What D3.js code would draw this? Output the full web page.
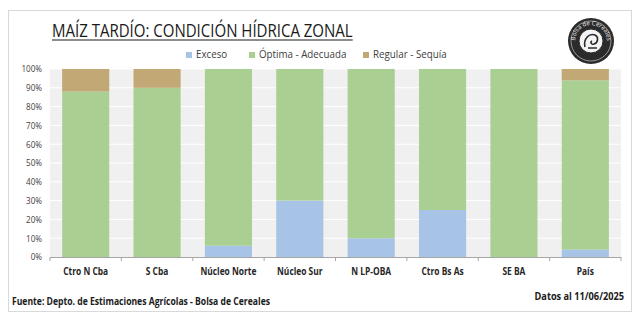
<!DOCTYPE html>
<html><head><meta charset="utf-8">
<script src="https://cdn.jsdelivr.net/npm/d3@7"></script>
<style>body{margin:0;background:#fff}svg{display:block}</style>
</head><body>
<script>
const categories = ["Ctro N Cba","S Cba","Núcleo Norte","Núcleo Sur","N LP-OBA","Ctro Bs As","SE BA","País"];
const seriesNames = ["Exceso","Óptima - Adecuada","Regular - Sequía"];
const exceso =   [0, 0, 6, 30, 10, 25, 0, 4];
const optima =   [88, 90, 94, 70, 90, 75, 100, 90];
const regular =  [12, 10, 0, 0, 0, 0, 0, 6];
const colors = ["#a7c3e5","#aacf93","#c1a874"];
const yTicks = [0,10,20,30,40,50,60,70,80,90,100];

const W=640,H=322;
const FONT="'Open Sans',sans-serif";
const svg=d3.select("body").append("svg").attr("width",W).attr("height",H);
function squeeze(sel,f){sel.each(function(){const L=this.getComputedTextLength();d3.select(this).attr("textLength",L*f).attr("lengthAdjust","spacingAndGlyphs");});}

svg.append("rect").attr("x",8.5).attr("y",10.5).attr("width",623).attr("height",301)
  .attr("fill","#fff").attr("stroke","#d9d9d9");

const x=d3.scaleBand().domain(categories).range([50,621]).paddingInner(0.34).paddingOuter(0.17);
const y=d3.scaleLinear().domain([0,100]).range([257,69]);

svg.append("rect").attr("x",50).attr("y",69).attr("width",571).attr("height",188).attr("fill","#f0f0f0");
svg.append("g").selectAll("line").data(yTicks.slice(1)).join("line")
  .attr("x1",50).attr("x2",621).attr("y1",d=>y(d)).attr("y2",d=>y(d))
  .attr("stroke","#fff").attr("stroke-width",1);

const rows=categories.map((c,i)=>({cat:c,"Exceso":exceso[i],"Óptima - Adecuada":optima[i],"Regular - Sequía":regular[i]}));
const stack=d3.stack().keys(seriesNames)(rows);
svg.append("g").selectAll("g").data(stack).join("g").attr("fill",(d,i)=>colors[i])
  .selectAll("rect").data(d=>d).join("rect")
  .attr("x",d=>x(d.data.cat)).attr("width",x.bandwidth())
  .attr("y",d=>y(d[1])).attr("height",d=>y(d[0])-y(d[1]));

// y axis labels
const ya=svg.append("g").attr("transform","translate(44,0)")
  .call(d3.axisLeft(y).tickValues(yTicks).tickFormat(d=>d+"%").tickSize(0).tickPadding(2));
ya.select(".domain").remove();
ya.selectAll("text").attr("font-family",FONT).attr("font-size",9).attr("fill","#404040");
squeeze(ya.selectAll("text"),0.9);

// x axis
const step=x.step();
svg.append("line").attr("x1",50).attr("x2",621).attr("y1",257.5).attr("y2",257.5).attr("stroke","#a6a6a6");
svg.append("g").selectAll("line").data(d3.range(categories.length+1)).join("line")
  .attr("x1",i=>50+i*step).attr("x2",i=>50+i*step).attr("y1",257).attr("y2",261).attr("stroke","#a6a6a6");
const xl=svg.append("g").selectAll("text").data(categories).join("text")
  .attr("x",d=>x(d)+x.bandwidth()/2).attr("y",275).attr("text-anchor","middle")
  .attr("font-family",FONT).attr("font-size",10.5).attr("font-weight","bold").attr("fill","#262626").text(d=>d);
squeeze(xl,0.8);

// title
const t=svg.append("text").attr("x",52).attr("y",37).attr("font-family",FONT).attr("font-size",19)
  .attr("fill","#1a1a1a").text("MAÍZ TARDÍO: CONDICIÓN HÍDRICA ZONAL");
squeeze(t,0.79);
const tb=t.node().getBBox();
svg.append("line").attr("x1",tb.x).attr("x2",tb.x+tb.width).attr("y1",40).attr("y2",40).attr("stroke","#1a1a1a").attr("stroke-width",1);

// legend
const legX=[186,249,363];
const lg=svg.append("g").selectAll("g").data(seriesNames).join("g").attr("transform",(d,i)=>`translate(${legX[i]},58)`);
lg.append("rect").attr("x",0).attr("y",-6).attr("width",6).attr("height",6).attr("fill",(d,i)=>colors[i]);
const lt=lg.append("text").attr("x",10).attr("y",0).attr("font-family",FONT).attr("font-size",10.5).attr("fill","#404040").text(d=>d);
squeeze(lt,0.93);

// footer
const f1=svg.append("text").attr("x",12).attr("y",305).attr("font-family",FONT).attr("font-size",10).attr("font-weight","bold")
  .attr("fill","#1a1a1a").text("Fuente: Depto. de Estimaciones Agrícolas - Bolsa de Cereales");
squeeze(f1,0.86);
const f2=svg.append("text").attr("x",624).attr("y",300).attr("text-anchor","end").attr("font-family",FONT).attr("font-size",10).attr("font-weight","bold")
  .attr("fill","#1a1a1a").text("Datos al 11/06/2025");
squeeze(f2,0.92);

// logo
const logo=svg.append("g").attr("transform","translate(591,41)");
logo.append("circle").attr("r",23).attr("fill","#2b2b2b");
logo.append("circle").attr("r",20).attr("fill","none").attr("stroke","#ddd").attr("stroke-width",0.6);
logo.append("circle").attr("r",12).attr("fill","#f4f4f4").attr("stroke","#2b2b2b");
logo.append("path").attr("d","M-6,6 C-8,-2 -2,-8 4,-6 C8,-4 7,2 3,3 C0,4 -1,1 1,0 M-3,7 L6,7")
  .attr("fill","none").attr("stroke","#2b2b2b").attr("stroke-width",1.6);
logo.append("path").attr("id","la").attr("d","M-16,0 A16,16 0 0,1 16,0").attr("fill","none");
logo.append("text").attr("font-family",FONT).attr("font-size",6).attr("fill","#eee")
  .append("textPath").attr("href","#la").attr("startOffset","50%").attr("text-anchor","middle").text("Bolsa de Cereales");
</script>
</body></html>
